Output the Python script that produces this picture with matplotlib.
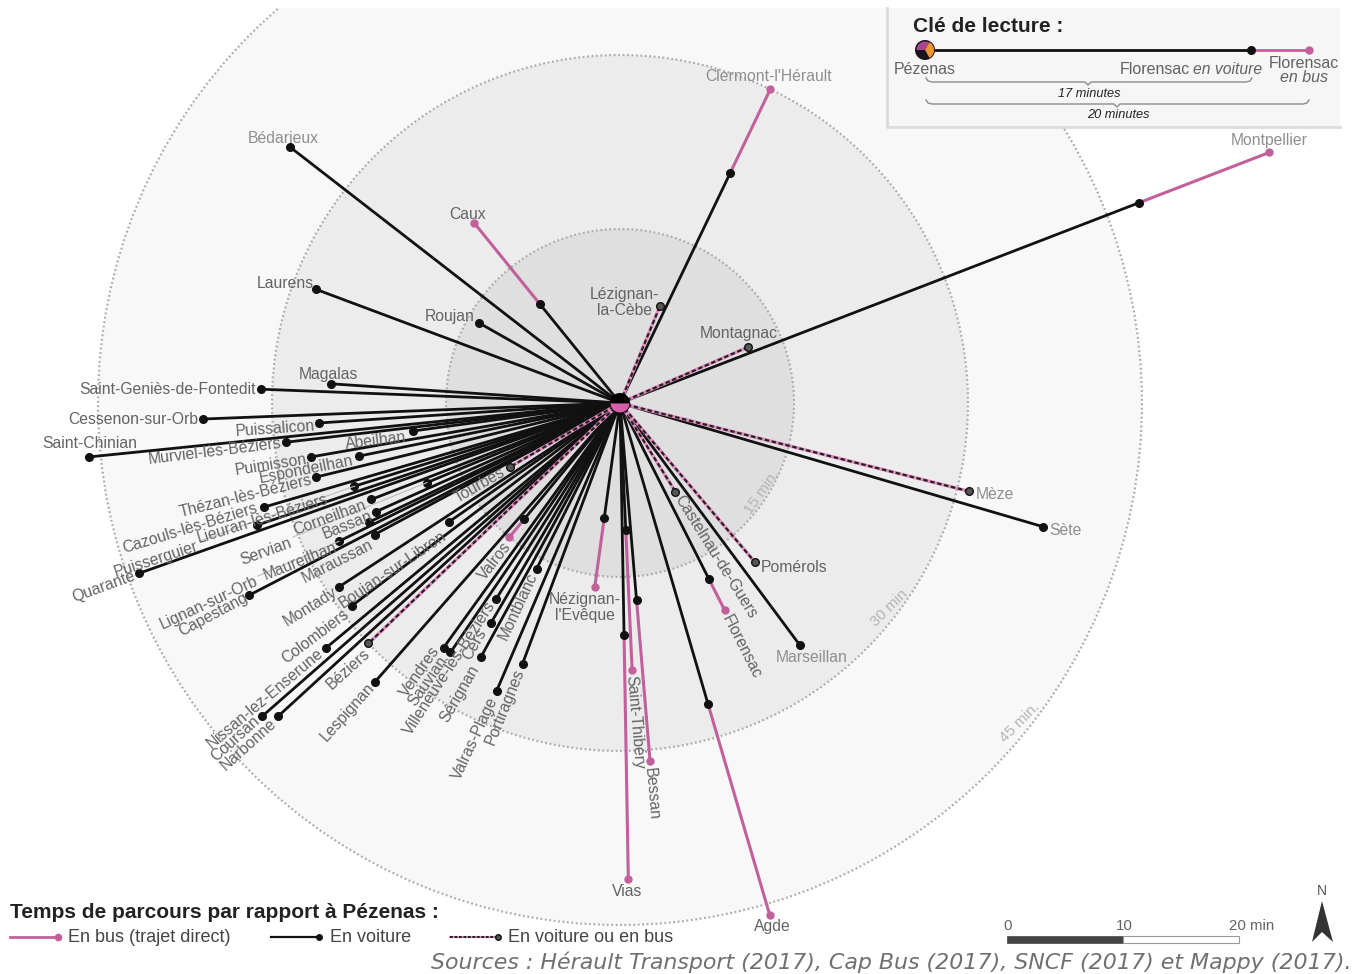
import numpy as np
import matplotlib
matplotlib.use("Agg")
import matplotlib.pyplot as plt
from matplotlib.patches import Circle, Wedge, Rectangle, Polygon

plt.rcParams['font.family'] = ['Liberation Sans', 'DejaVu Sans']

# car only destinations: bearing (deg, counter clockwise from east) and minutes
car_names = ["Bédarieux", "Laurens", "Roujan", "Magalas", "Saint-Geniès-de-Fontedit", "Cessenon-sur-Orb",
             "Puissalicon", "Saint-Chinian", "Abeilhan", "Murviel-lès-Béziers", "Puimisson", "Espondeilhan",
             "Thézan-lès-Béziers", "Cazouls-lès-Béziers", "Lieuran-lès-Béziers", "Puisserguier", "Servian",
             "Corneilhan", "Bassan", "Quarante", "Maureilhan", "Lignan-sur-Orb", "Maraussan", "Boujan-sur-Libron",
             "Capestang", "Montady", "Colombiers", "Nissan-lez-Enserune", "Coursan", "Narbonne", "Lespignan",
             "Vendres", "Sauvian", "Villeneuve-lès-Béziers", "Cers", "Sérignan", "Valras-Plage", "Montblanc",
             "Portiragnes", "Marseillan", "Sète"]
car_angles = [142.2, 159.5, 150.4, 176.2, 177.8, 182.2,
              183.8, 185.8, 187.7, 186.7, 189.9, 191.5,
              193.7, 196.3, 197.4, 198.6, 202.4,
              201.2, 204.0, 199.5, 205.4, 206.2, 208.2, 214.8,
              207.4, 213.2, 217.1, 219.8, 221.2, 222.5, 228.7,
              234.2, 235.8, 239.6, 237.7, 241.3, 246.8, 243.3,
              249.5, 306.6, 343.7]
car_minutes = [36, 28, 14, 25, 31, 36,
               26, 46, 18, 29, 27, 23,
               27, 32, 24, 33, 18,
               23, 23, 44, 24, 27, 24, 18,
               36, 29, 29, 33, 41, 40, 32,
               26, 26, 22, 20, 25, 27, 16,
               24, 26, 38]

# destinations with a car time and a longer direct bus time
bus_names = ["Clermont-l'Hérault", "Caux", "Montpellier", "Valros", "Nézignan-\nl'Evêque", "Saint-Thibéry",
             "Vias", "Bessan", "Agde", "Florensac"]
bus_angles = [64.4, 129.0, 21.1, 230.5, 262.2, 272.6, 271.0, 274.8, 286.3, 296.8]
bus_car_minutes = [22, 11, 48, 13, 10, 11, 20, 17, 27, 17]
bus_minutes = [30, 20, 60, 15, 16, 23, 41, 31, 46, 20]

# same time by car or by bus
both_names = ["Lézignan-\nla-Cèbe", "Montagnac", "Tourbes", "Béziers", "Castelnau-de-Guers", "Pomérols", "Mèze"]
both_angles = [67.6, 23.6, 210.2, 223.7, 302.0, 310.3, 345.8]
both_minutes = [9, 12, 11, 30, 9, 18, 31]

ring_minutes = [45, 30, 15]
ring_colors = ["#f8f8f8", "#ececec", "#dfdfdf"]
ring_labels = ["45 min.", "30 min", "15 min."]

key_car = 17
key_bus = 20

# pixels per minute and origin in the image
SCALE = 11.6
CX, CY = 620, 403
W, H = 1370, 974

PINK = "#c2609b"
BLACK = "#111111"
GREY = "#636363"

# label layout, pixel centre and rotation
label_pos = {
    "Clermont-l'Hérault": (769, 75, 0), "Bédarieux": (283, 137, 0), "Caux": (468, 213, 0), "Laurens": (285, 282, 0),
    "Roujan": (450, 315, 0), "Lézignan-\nla-Cèbe": (625, 301, 0), "Montagnac": (739, 332, 0), "Magalas": (328, 373, 0),
    "Saint-Geniès-de-Fontedit": (168, 388, 0), "Cessenon-sur-Orb": (133, 418, 0), "Puissalicon": (275, 427, 4),
    "Saint-Chinian": (90, 442, 0), "Murviel-lès-Béziers": (215, 450, 7), "Abeilhan": (376, 439, 7),
    "Puimisson": (271, 463, 9), "Espondeilhan": (306, 468, 11), "Thézan-lès-Béziers": (246, 495, 14),
    "Cazouls-lès-Béziers": (190, 527, 17), "Lieuran-lès-Béziers": (263, 517, 17), "Puisserguier": (156, 558, 18),
    "Quarante": (104, 585, 20), "Corneilhan": (330, 516, 20), "Servian": (266, 550, 20), "Bassan": (347, 523, 22),
    "Maureilhan": (300, 560, 22), "Lignan-sur-Orb": (209, 601, 25), "Maraussan": (337, 560, 27),
    "Boujan-sur-Libron": (393, 568, 34), "Capestang": (213, 613, 28), "Montady": (310, 605, 32),
    "Colombiers": (315, 635, 37), "Tourbes": (480, 484, 30), "Nissan-lez-Enserune": (265, 697, 40),
    "Coursan": (235, 737, 42), "Narbonne": (248, 743, 42), "Béziers": (348, 668, 42), "Lespignan": (348, 710, 48),
    "Valros": (495, 560, 52), "Vendres": (420, 670, 55), "Sauvian": (428, 680, 55),
    "Villeneuve-lès-Béziers": (450, 667, 57), "Cers": (475, 643, 60), "Sérignan": (460, 692, 60),
    "Valras-Plage": (475, 737, 65), "Portiragnes": (505, 705, 68), "Montblanc": (518, 605, 65),
    "Nézignan-\nl'Evêque": (585, 606, 0), "Saint-Thibéry": (635, 721, -85), "Bessan": (652, 792, -85),
    "Vias": (627, 890, 0), "Agde": (772, 925, 0), "Castelnau-de-Guers": (716, 555, -58), "Florensac": (742, 645, -63),
    "Pomérols": (794, 566, 0), "Marseillan": (812, 656, 0), "Mèze": (995, 493, 0), "Sète": (1065, 529, 0),
    "Montpellier": (1269, 139, 0),
}
light_labels = ["Clermont-l'Hérault", "Montpellier", "Marseillan", "Mèze", "Sète", "Bédarieux"]


def polar(angle, minutes):
    a = np.radians(angle)
    return minutes * np.cos(a), minutes * np.sin(a)


fig = plt.figure(figsize=(W / 100, H / 100), dpi=100, facecolor="white")
ax = fig.add_axes([0, 0, 1, 1])
ax.set_xlim(-CX / SCALE, (W - CX) / SCALE)
ax.set_ylim(-(H - CY) / SCALE, CY / SCALE)
ax.axis("off")

# overlay in image pixels for the key, legend and labels
ov = fig.add_axes([0, 0, 1, 1], zorder=5)
ov.set_xlim(0, W)
ov.set_ylim(H, 0)
ov.axis("off")
ov.patch.set_alpha(0)

for m, c in zip(ring_minutes, ring_colors):
    ax.add_patch(Circle((0, 0), m, facecolor=c, edgecolor="#ababab", lw=1.6, linestyle=(0, (0.8, 1.2)), zorder=1))

# leader lines for crowded labels
for name, px, py in [("Servian", 293, 537), ("Lignan-sur-Orb", 258, 576), ("Lieuran-lès-Béziers", 200, 541)]:
    i = car_names.index(name)
    ex, ey = polar(car_angles[i], car_minutes[i])
    ov.plot([px, CX + ex * SCALE], [py, CY - ey * SCALE], color="#bdbdbd", lw=0.8, zorder=1)

for ang, car, bus in zip(bus_angles, bus_car_minutes, bus_minutes):
    x0, y0 = polar(ang, car)
    x1, y1 = polar(ang, bus)
    ax.plot([x0, x1], [y0, y1], color=PINK, lw=2.2, zorder=3, solid_capstyle="round")
    ax.plot([x1], [y1], "o", color=PINK, ms=5, zorder=4)

for ang, m in zip(car_angles + bus_angles, car_minutes + bus_car_minutes):
    x, y = polar(ang, m)
    ax.plot([0, x], [0, y], color=BLACK, lw=2, zorder=5)
    ax.plot([x], [y], "o", color=BLACK, ms=5.5, zorder=6)

for ang, m in zip(both_angles, both_minutes):
    x, y = polar(ang, m)
    ax.plot([0, x], [0, y], color="#e58cc2", lw=2.4, zorder=5)
    ax.plot([0, x], [0, y], color="#222222", lw=1.6, linestyle=(0, (2, 1.2)), zorder=5)
    ax.plot([x], [y], "o", mfc="#555555", mec=BLACK, ms=5.5, mew=1, zorder=6)

# Pézenas in the middle
r = 10 / SCALE
ax.add_patch(Wedge((0, 0), r, 0, 180, fc="black", ec="none", zorder=8))
ax.add_patch(Wedge((0, 0), r, 180, 360, fc="#d65fa8", ec="black", lw=0.6, zorder=8))

# labels
for name, (px, py, rot) in label_pos.items():
    col = "#8f8f8f" if name in light_labels else GREY
    ov.text(px, py + 1.5, name, fontsize=11.3, color=col, rotation=rot, rotation_mode="anchor",
            ha="center", va="center", linespacing=1.05, zorder=3)

ov.text(762, 492, ring_labels[2], fontsize=11, color="#b5b5b5", rotation=55, ha="center", va="center")
ov.text(889, 608, ring_labels[1], fontsize=11, color="#b5b5b5", rotation=45, ha="center", va="center")
ov.text(1020, 723, ring_labels[0], fontsize=11, color="#b5b5b5", rotation=45, ha="center", va="center")

# white strip at the top, the map is cut there
ov.add_patch(Rectangle((0, 0), W, 8, fc="white", ec="none", zorder=6))

# key box
ov.add_patch(Rectangle((887, 8), 453, 119, fc="#f6f6f6", ec="none", zorder=7))
ov.plot([887, 887, 1340], [8, 127, 127], color="#dcdcdc", lw=2, zorder=8)
ov.text(913, 26, "Clé de lecture :", fontsize=15, fontweight="bold", color="#222222", va="center", zorder=9)
KEY_X, KEY_Y, KEY_S = 925, 50, 19.2
kx1 = KEY_X + key_car * KEY_S
kx2 = KEY_X + key_bus * KEY_S
ov.plot([kx1, kx2], [KEY_Y, KEY_Y], color=PINK, lw=2, zorder=9)
ov.plot([kx2], [KEY_Y], "o", color=PINK, ms=5, zorder=9)
ov.plot([KEY_X, kx1], [KEY_Y, KEY_Y], color=BLACK, lw=2, zorder=9)
ov.plot([kx1], [KEY_Y], "o", color=BLACK, ms=5.5, zorder=9)
ov.add_patch(Circle((KEY_X, KEY_Y), 10, fc="#1c1420", ec="none", zorder=10))
ov.add_patch(Wedge((KEY_X, KEY_Y), 8.5, 180, 300, fc="#a8478c", ec="none", zorder=11))
ov.add_patch(Wedge((KEY_X, KEY_Y), 9, 300, 60, fc="#ef962c", ec="none", zorder=11))
ov.text(925, 69, "Pézenas", fontsize=11.5, color=GREY, ha="center", va="center", zorder=9)
ov.text(1120, 69, "Florensac", fontsize=11.5, color=GREY, ha="left", va="center", zorder=9)
ov.text(1193, 69, "en voiture", fontsize=11.3, color=GREY, style="italic", ha="left", va="center", zorder=9)
ov.text(1304, 63, "Florensac", fontsize=11.5, color=GREY, ha="center", va="center", zorder=9)
ov.text(1304, 78, "en bus", fontsize=11.5, color=GREY, style="italic", ha="center", va="center", zorder=9)
for x0, x1, y, tip, txt, ty in [(926, 1252, 78, 1088, "17 minutes", 94), (926, 1309, 100, 1117, "20 minutes", 115)]:
    ov.plot([x0, x0 + 2, x0 + 6, tip - 3, tip, tip + 3, x1 - 6, x1 - 2, x1],
            [y, y + 3, y + 4, y + 4, y + 7, y + 4, y + 4, y + 3, y], color="#8c8c8c", lw=1, zorder=9)
    ov.text(tip + 1, ty, txt, fontsize=9.2, style="italic", color="#222222", ha="center", va="center", zorder=9)

# legend
ov.text(10, 912, "Temps de parcours par rapport à Pézenas :", fontsize=15, fontweight="bold", color="#222222", va="center")
ov.plot([10, 58], [937, 937], color=PINK, lw=2)
ov.plot([58], [937], "o", color=PINK, ms=4.5)
ov.text(68, 937, "En bus (trajet direct)", fontsize=13, color="#444444", va="center")
ov.plot([271, 319], [937, 937], color=BLACK, lw=1.6)
ov.plot([319], [937], "o", color=BLACK, ms=4)
ov.text(330, 937, "En voiture", fontsize=13, color="#444444", va="center")
ov.plot([450, 498], [937, 937], color="#e58cc2", lw=1.6)
ov.plot([450, 498], [937, 937], color="#222222", lw=1.4, linestyle=(0, (1.5, 0.8)))
ov.plot([498], [937], "o", mfc="#555555", mec=BLACK, ms=4)
ov.text(508, 937, "En voiture ou en bus", fontsize=13, color="#444444", va="center")

# scale bar in minutes
ov.add_patch(Rectangle((CX + 0 * SCALE + 387, 936), 10 * SCALE, 7, fc="#444444", ec="#444444", lw=0.5))
ov.add_patch(Rectangle((CX + 10 * SCALE + 387, 936), 10 * SCALE, 7, fc="white", ec="#999999", lw=0.8))
ov.text(1008, 926, "0", fontsize=10.8, color=GREY, ha="center", va="center")
ov.text(1124, 926, "10", fontsize=10.8, color=GREY, ha="center", va="center")
ov.text(1229, 926, "20 min", fontsize=10.8, color=GREY, ha="left", va="center")

# north arrow
ov.add_patch(Polygon([(1322, 901), (1312, 942), (1322, 932), (1333, 942)], closed=True, fc="#333333", ec="none"))
ov.text(1322, 891, "N", fontsize=10, color="#555555", ha="center", va="center")

# sources
ov.text(1352, 962, "Sources : Hérault Transport (2017), Cap Bus (2017), SNCF (2017) et Mappy (2017).",
        family=["DejaVu Sans"], fontsize=15.9, style="italic", color="#707070", ha="right", va="center")

fig.savefig("out.png", dpi=100)
